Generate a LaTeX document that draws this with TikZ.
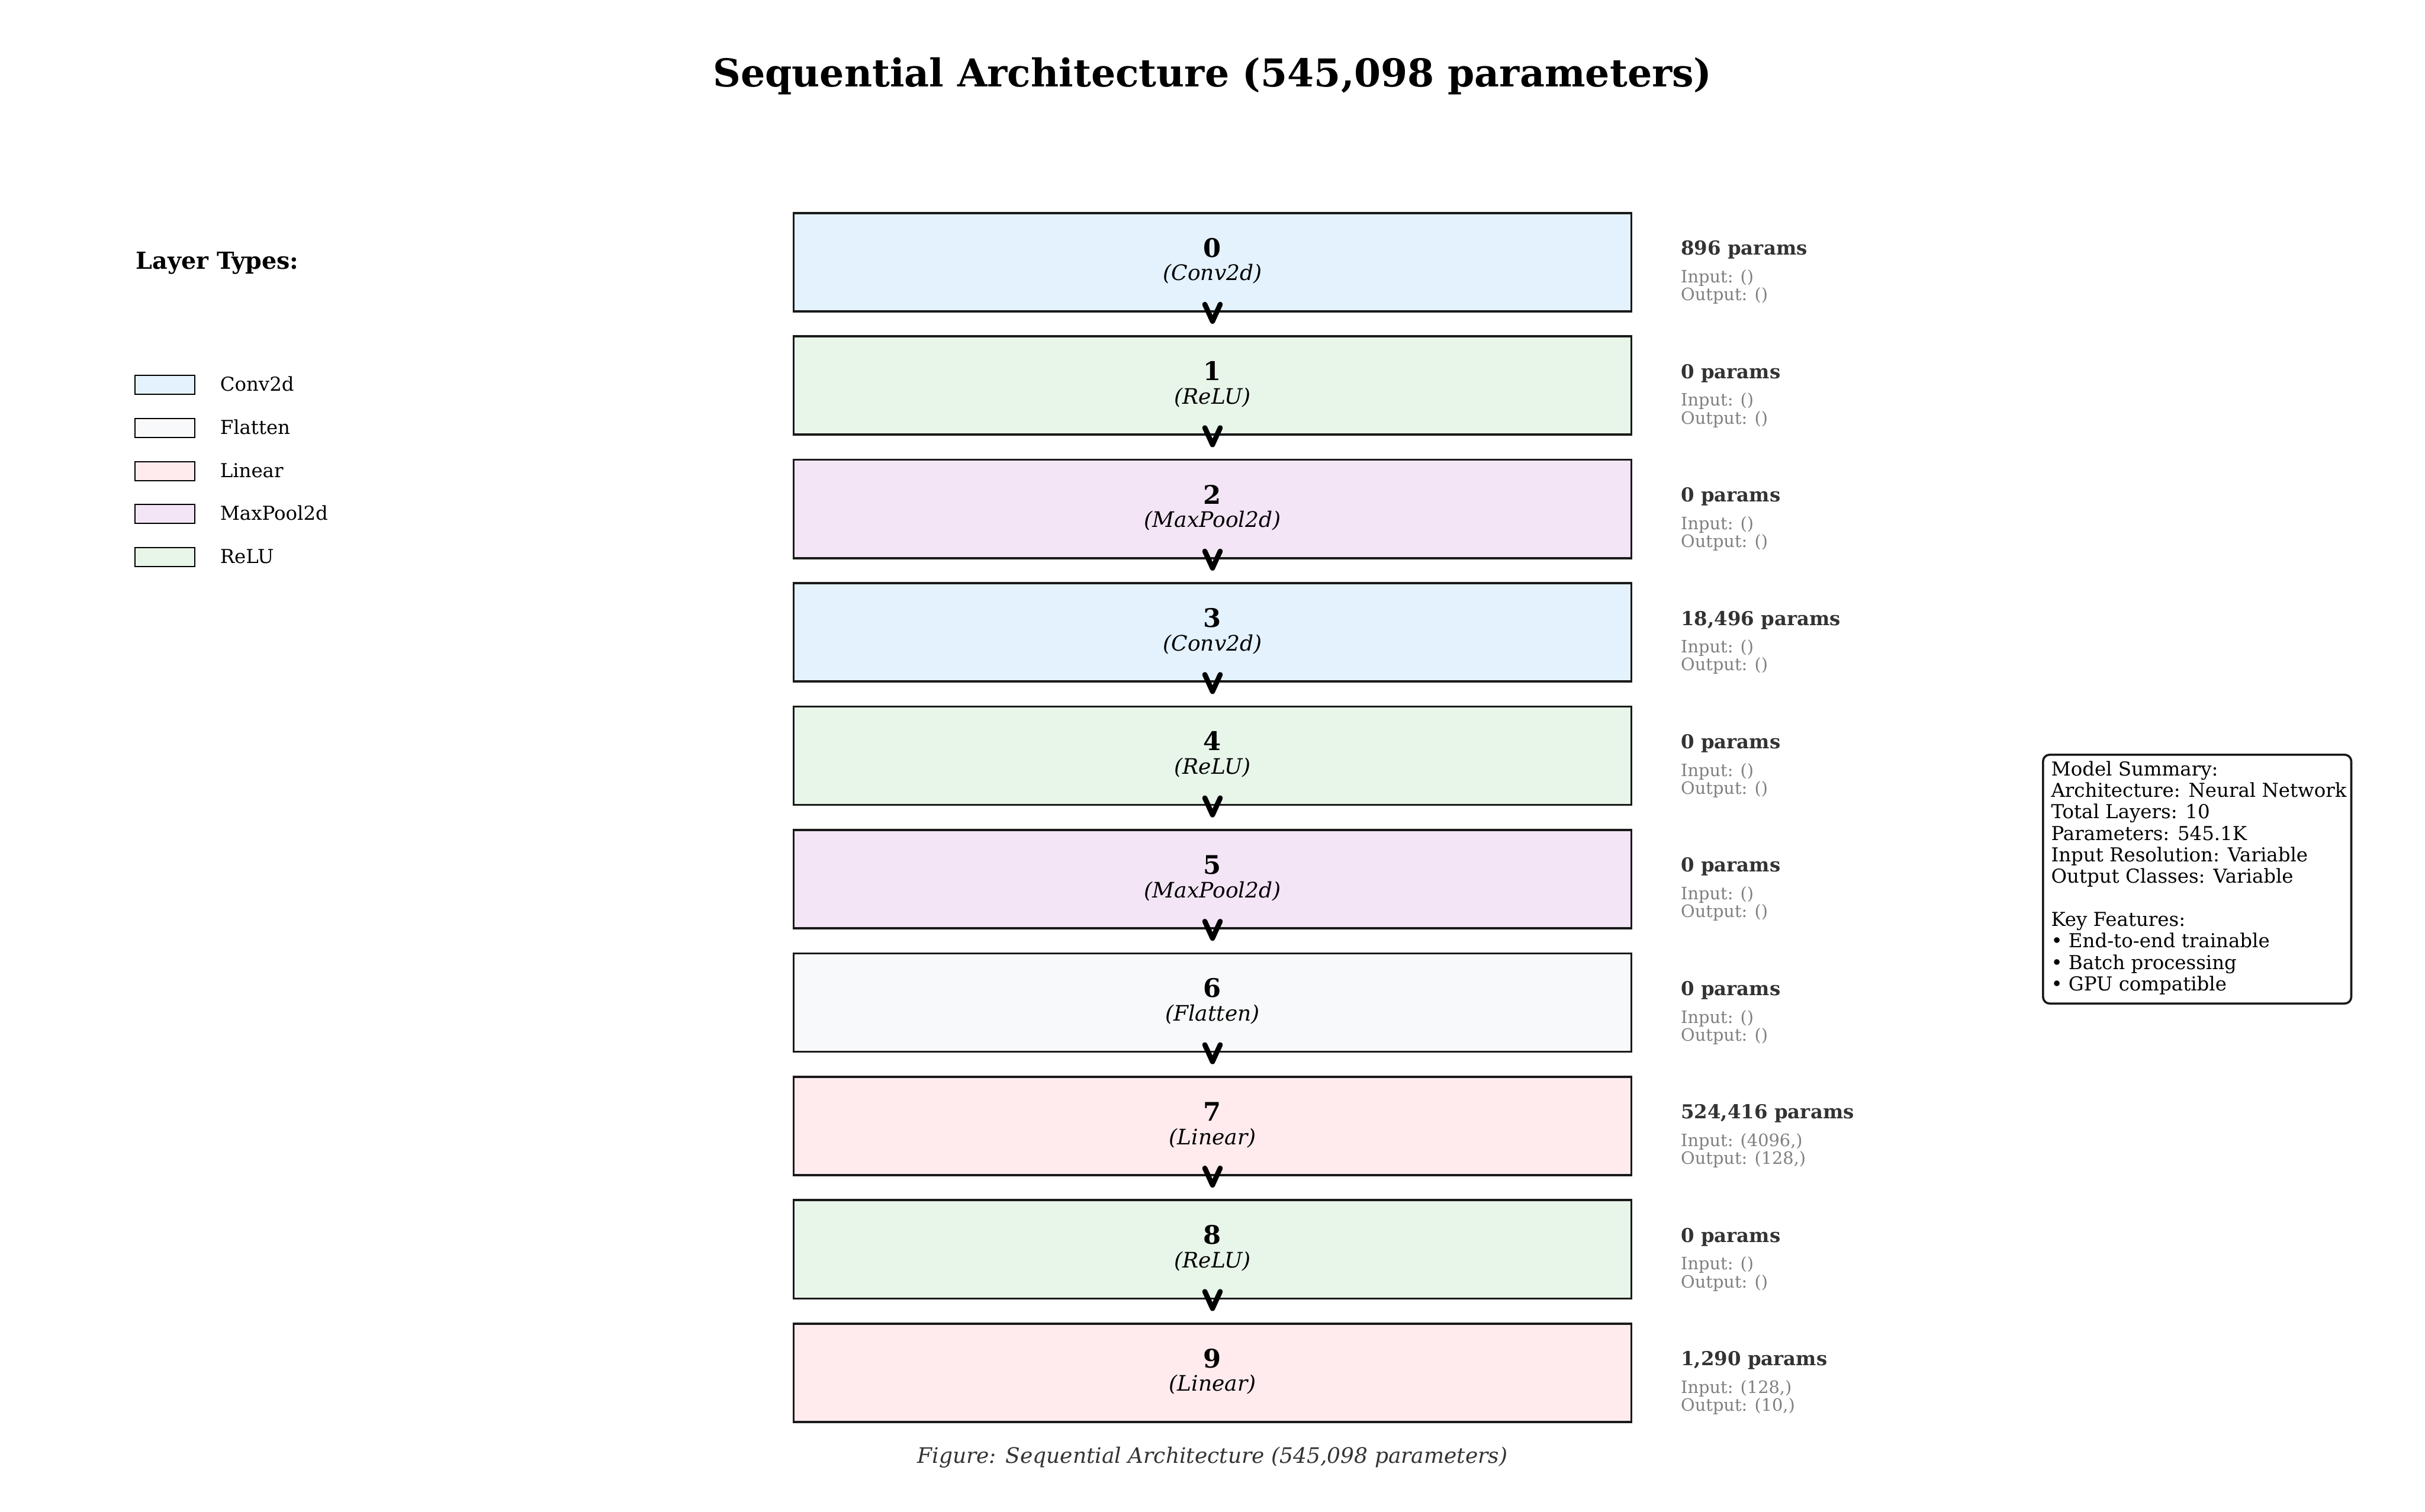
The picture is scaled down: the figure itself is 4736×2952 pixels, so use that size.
\documentclass[tikz,border=0pt]{standalone}
\usepackage{fontspec}
\setmainfont{DejaVu Serif}
\usetikzlibrary{calc}
\definecolor{cconv}{HTML}{E3F2FD}
\definecolor{cflat}{HTML}{F8F9FA}
\definecolor{clin}{HTML}{FFEBEE}
\definecolor{cpool}{HTML}{F3E5F5}
\definecolor{crelu}{HTML}{E8F5E9}
\definecolor{edgec}{HTML}{1A1A1A}
\definecolor{ptext}{HTML}{333333}
\definecolor{iotext}{HTML}{808080}
\begin{document}
\begin{tikzpicture}[x=0.24pt,y=-0.24pt,
  layerbox/.style={draw=edgec, line width=1pt, minimum width={1636*0.24pt}, minimum height={192*0.24pt}, inner sep=0pt},
  idxtext/.style={font=\fontsize{12}{14}\selectfont\bfseries, anchor=base, inner sep=0pt},
  typetext/.style={font=\fontsize{10}{12}\selectfont\itshape, anchor=base, inner sep=0pt},
  partext/.style={font=\fontsize{9}{11}\selectfont\bfseries, text=ptext, anchor=base west, inner sep=0pt},
  iotxt/.style={font=\fontsize{8}{10}\selectfont, text=iotext, anchor=base west, inner sep=0pt},
  vtip/.style={line width=2.4pt, line cap=round, line join=round, draw=black},
  legbox/.style={draw=black, line width=0.6pt, minimum width={117*0.24pt}, minimum height={37*0.24pt}, inner sep=0pt},
  legtext/.style={font=\fontsize{9}{11}\selectfont, anchor=base west, inner sep=0pt},
  sumtext/.style={font=\fontsize{9}{11}\selectfont, anchor=base west, inner sep=0pt}
]
\useasboundingbox[fill=white] (0,0) rectangle (4736,2952);

% title
\node[font=\fontsize{18}{22}\selectfont\bfseries, anchor=base, inner sep=0pt] (title) at (2368,169) {Sequential Architecture (545,098 parameters)};

% layers
\foreach \i/\nm/\col/\prm/\inp/\outp in {
  {0/Conv2d/cconv/896/()/()},
  {1/ReLU/crelu/0/()/()},
  {2/MaxPool2d/cpool/0/()/()},
  {3/Conv2d/cconv/{18,496}/()/()},
  {4/ReLU/crelu/0/()/()},
  {5/MaxPool2d/cpool/0/()/()},
  {6/Flatten/cflat/0/()/()},
  {7/Linear/clin/{524,416}/{(4096,)}/{(128,)}},
  {8/ReLU/crelu/0/()/()},
  {9/Linear/clin/{1,290}/{(128,)}/{(10,)}}} {
  \pgfmathsetmacro\cy{512+241*\i}
  \node[layerbox, fill=\col] (b\i) at (2368,\cy) {};
  \node[idxtext] (n\i) at ($(b\i.center)+(0,-10)$) {\i};
  \node[typetext] (t\i) at ($(b\i.center)+(0,36)$) {(\nm)};
  \node[partext] (p\i) at (3282,\cy-14) {\prm\ params};
  \node[iotxt] (in\i) at (3282,\cy+40) {Input: \inp};
  \node[iotxt] (out\i) at (3282,\cy+75) {Output: \outp};
}

% arrows (heads only)
\foreach \i in {0,...,8} {
  \pgfmathtruncatemacro\j{\i+1}
  \coordinate (a\i) at ($(b\i.south)!0.5!(b\j.north)$);
  \draw[vtip] ($(a\i)+(-15,-38)$) -- ($(a\i)+(0,-5)$) -- ($(a\i)+(15,-38)$);
}

% legend
\node[font=\fontsize{11}{13}\selectfont\bfseries, anchor=base west, inner sep=0pt] (legtitle) at (265,525) {Layer Types:};
\foreach \k/\col/\nm in {0/cconv/Conv2d, 1/cflat/Flatten, 2/clin/Linear, 3/cpool/MaxPool2d, 4/crelu/ReLU} {
  \node[legbox, fill=\col] (l\k) at (322,752+84*\k) {};
  \node[legtext] (lt\k) at (429,764+84*\k) {\nm};
}

% summary
\node[draw=edgec, line width=1pt, rounded corners={13*0.24pt}, minimum width={602*0.24pt}, minimum height={486*0.24pt}, inner sep=0pt, fill=white] (summary) at (4291,1717) {};
\node[sumtext] (s0) at (4005,1515) {Model Summary:};
\node[sumtext] (s1) at (4005,1557) {Architecture: Neural Network};
\node[sumtext] (s2) at (4005,1599) {Total Layers: 10};
\node[sumtext] (s3) at (4005,1641) {Parameters: 545.1K};
\node[sumtext] (s4) at (4005,1683) {Input Resolution: Variable};
\node[sumtext] (s5) at (4005,1725) {Output Classes: Variable};
\node[sumtext] (s7) at (4005,1809) {Key Features:};
\node[sumtext] (s8) at (4005,1851) {• End-to-end trainable};
\node[sumtext] (s9) at (4005,1893) {• Batch processing};
\node[sumtext] (s10) at (4005,1935) {• GPU compatible};

% caption
\node[font=\fontsize{10}{12}\selectfont\itshape, text=ptext, anchor=base, inner sep=0pt] (caption) at (2368,2858) {Figure: Sequential Architecture (545,098 parameters)};
\end{tikzpicture}
\end{document}
